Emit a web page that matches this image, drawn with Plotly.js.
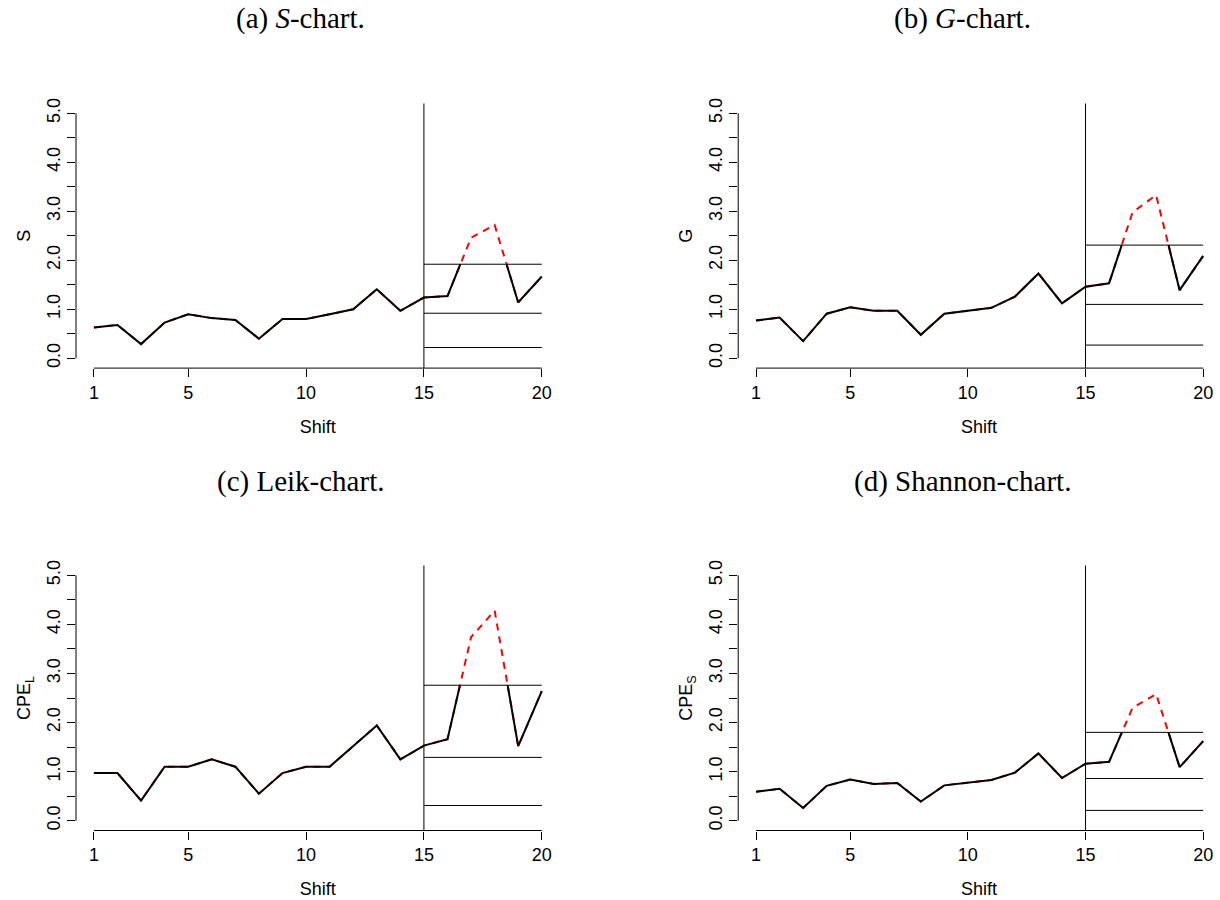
<!DOCTYPE html>
<html>
<head>
<meta charset="utf-8">
<script src="https://cdn.plot.ly/plotly-3.0.1.min.js"></script>
<style>html,body{margin:0;padding:0;background:#fff;}#chart{width:1220px;height:900px;}</style>
</head>
<body>
<div id="chart"></div>
<script>
// ---- data ----
const shift = [1,2,3,4,5,6,7,8,9,10,11,12,13,14,15,16,17,18,19,20];

const sValues       = [0.63,0.68,0.29,0.73,0.90,0.82,0.78,0.40,0.80,0.80,0.90,1.00,1.41,0.97,1.24,1.27,2.46,2.72,1.14,1.67];
const gValues       = [0.77,0.83,0.35,0.91,1.04,0.97,0.97,0.48,0.91,0.97,1.03,1.26,1.73,1.12,1.46,1.53,2.98,3.33,1.39,2.09];
const leikValues    = [0.97,0.97,0.41,1.10,1.10,1.25,1.10,0.55,0.97,1.10,1.10,1.51,1.94,1.25,1.53,1.66,3.74,4.28,1.52,2.64];
const shannonValues = [0.59,0.65,0.26,0.71,0.84,0.75,0.77,0.39,0.72,0.77,0.83,0.98,1.37,0.87,1.16,1.20,2.30,2.58,1.09,1.62];

// control limits [LCL, CL, UCL]
const sLimits       = [0.22,0.92,1.92];
const gLimits       = [0.27,1.10,2.31];
const leikLimits    = [0.31,1.29,2.76];
const shannonLimits = [0.21,0.86,1.80];

const phaseStart = 15;   // start of monitoring phase
const phaseEnd = 20;

const captions = ['(a) <i>S</i>-chart.', '(b) <i>G</i>-chart.', '(c) Leik-chart.', '(d) Shannon-chart.'];
const yTitles = ['S', 'G', 'CPE<sub>L</sub>', 'CPE<sub>S</sub>'];
const xTitle = 'Shift';
const xTickVals = [1,5,10,15,20];
const yTickVals = [0,1,2,3,4,5];
const yTickText = ['0.0','1.0','2.0','3.0','4.0','5.0'];
const yMinorTickVals = [0.5,1.5,2.5,3.5,4.5];

// ---- build ----
function clipBelow(x, y, lim) {
  const xs = [], ys = [];
  for (let i = 0; i < y.length; i++) {
    if (i > 0) {
      const a = y[i-1], b = y[i];
      if ((a <= lim) !== (b <= lim)) {
        const t = (lim - a) / (b - a);
        xs.push(x[i-1] + t * (x[i] - x[i-1])); ys.push(lim);
        if (b > lim) { xs.push(null); ys.push(null); }
      }
    }
    if (y[i] <= lim) { xs.push(x[i]); ys.push(y[i]); }
  }
  return {xs, ys};
}

const series = [sValues, gValues, leikValues, shannonValues];
const limits = [sLimits, gLimits, leikLimits, shannonLimits];

const W = 1220, H = 900;
const xDomainsPx = [[76, 559.7], [738.2, 1220], [76, 559.7], [738.2, 1220]];
const xRanges = [[0.24, 20.76], [0.24, 20.715], [0.24, 20.76], [0.24, 20.715]];
const yDomainsPx = [[103.5, 368.1], [103.5, 368.1], [565.5, 830.5], [565.5, 830.5]];
const captionPos = [[300, 19], [962, 19], [300, 481], [962, 481]];

const traces = [];
const layout = {
  width: W, height: H,
  margin: {l:0, r:0, t:0, b:0},
  paper_bgcolor: '#fff', plot_bgcolor: '#fff',
  showlegend: false,
  font: {family: 'Liberation Sans, Arial, sans-serif', size: 18, color: '#000'},
  shapes: [], annotations: []
};

for (let p = 0; p < 4; p++) {
  const n = p + 1;
  const xa = 'x' + (n === 1 ? '' : n), ya = 'y' + (n === 1 ? '' : n);
  const xk = 'xaxis' + (n === 1 ? '' : n), yk = 'yaxis' + (n === 1 ? '' : n);
  const vals = series[p], lim = limits[p];

  layout[xk] = {
    domain: [xDomainsPx[p][0] / W, xDomainsPx[p][1] / W],
    anchor: ya, range: xRanges[p],
    showgrid: false, zeroline: false, showline: false,
    ticks: 'outside', ticklen: 8, tickwidth: 1, tickcolor: '#000',
    tickmode: 'array', tickvals: xTickVals, ticktext: xTickVals.map(String),
    tickfont: {size: 18},
    title: {text: xTitle, font: {size: 18}, standoff: 18}
  };
  layout[yk] = {
    domain: [1 - yDomainsPx[p][1] / H, 1 - yDomainsPx[p][0] / H],
    anchor: xa, range: [-0.2, 5.2],
    showgrid: false, zeroline: false, showline: false,
    ticks: 'outside', ticklen: 8, tickwidth: 1, tickcolor: '#000',
    tickmode: 'array', tickvals: yTickVals, ticktext: yTickText, tickangle: -90,
    minor: {tickmode: 'array', tickvals: yMinorTickVals, ticks: 'outside', ticklen: 8,
            tickwidth: 1, tickcolor: '#000', showgrid: false},
    tickfont: {size: 18},
    title: {text: yTitles[p], font: {size: 18}, standoff: 8}
  };

  // control limit lines
  lim.forEach(v => traces.push({
    x: [phaseStart, phaseEnd], y: [v, v], xaxis: xa, yaxis: ya,
    mode: 'lines', line: {color: '#000', width: 1}, hoverinfo: 'skip'
  }));

  // full series (red dashed)
  traces.push({
    x: shift, y: vals, xaxis: xa, yaxis: ya, mode: 'lines',
    line: {color: '#ff0000', width: 2, dash: '7px,6px'}
  });
  // part below UCL (black solid)
  const c = clipBelow(shift, vals, lim[2]);
  traces.push({
    x: c.xs, y: c.ys, xaxis: xa, yaxis: ya, mode: 'lines',
    line: {color: '#000', width: 2}, connectgaps: false
  });

  // axis lines spanning the tick range (R style)
  layout.shapes.push({type: 'line', xref: xa + ' domain', yref: ya, x0: 0, x1: 0, y0: 0, y1: 5,
    line: {color: '#000', width: 1}});
  layout.shapes.push({type: 'line', xref: xa, yref: ya + ' domain', x0: 1, x1: 20, y0: 0, y1: 0,
    line: {color: '#000', width: 1}});
  // phase separator
  layout.shapes.push({type: 'line', xref: xa, yref: ya + ' domain', x0: phaseStart, x1: phaseStart, y0: 0, y1: 1,
    line: {color: '#000', width: 1}});

  layout.annotations.push({
    text: captions[p], xref: 'paper', yref: 'paper',
    x: captionPos[p][0] / W, y: 1 - captionPos[p][1] / H,
    xanchor: 'center', yanchor: 'middle', showarrow: false,
    font: {family: 'Liberation Serif, Times New Roman, serif', size: 29, color: '#000'}
  });
}

Plotly.newPlot('chart', traces, layout, {staticPlot: true});
</script>
</body>
</html>
